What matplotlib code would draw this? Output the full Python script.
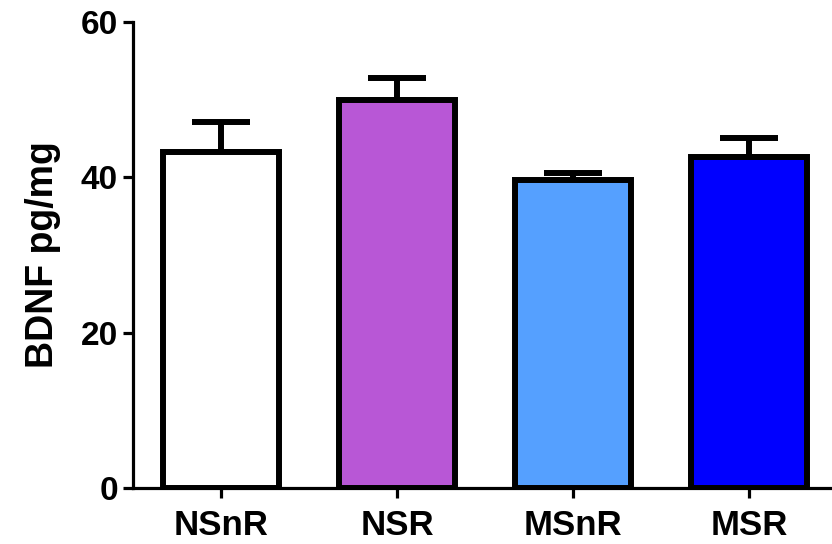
import matplotlib.pyplot as plt
import numpy as np

grupos = ["NSnR", "NSR", "MSnR", "MSR"]
medias = [43.2, 49.9, 39.6, 42.6]
erros = [3.9, 2.9, 0.9, 2.4]
cores = ["#FFFFFF", "#B857D6", "#55A0FF", "#0000FF"]

plt.rcParams["font.family"] = ["Liberation Sans", "DejaVu Sans"]
plt.rcParams["font.weight"] = "bold"

fig = plt.figure(figsize=(8.32, 5.44), dpi=100)
ax = fig.add_axes([0.16, 0.103, 0.84, 0.857])

x = np.arange(len(grupos))
ax.bar(x, medias, width=0.66, color=cores, edgecolor="black", linewidth=4.3, zorder=3)
ax.errorbar(x, medias, yerr=[np.zeros(len(erros)), erros], fmt="none",
            ecolor="black", elinewidth=4.3, capsize=21, capthick=4.3, zorder=2)

ax.set_xlim(-0.5, 3.47)
ax.set_ylim(0, 60)
ax.set_yticks([0, 20, 40, 60])
ax.set_xticks(x)
ax.set_xticklabels(grupos)
ax.set_ylabel("BDNF pg/mg", fontsize=27, fontweight="bold", labelpad=14)

for lado in ["top", "right"]:
    ax.spines[lado].set_visible(False)
for lado in ["left", "bottom"]:
    ax.spines[lado].set_linewidth(2.3)

ax.tick_params(axis="both", width=2.3, length=7, labelsize=24, pad=4)
ax.tick_params(axis="x", labelsize=25, pad=8)

plt.savefig("out.png", dpi=100)
